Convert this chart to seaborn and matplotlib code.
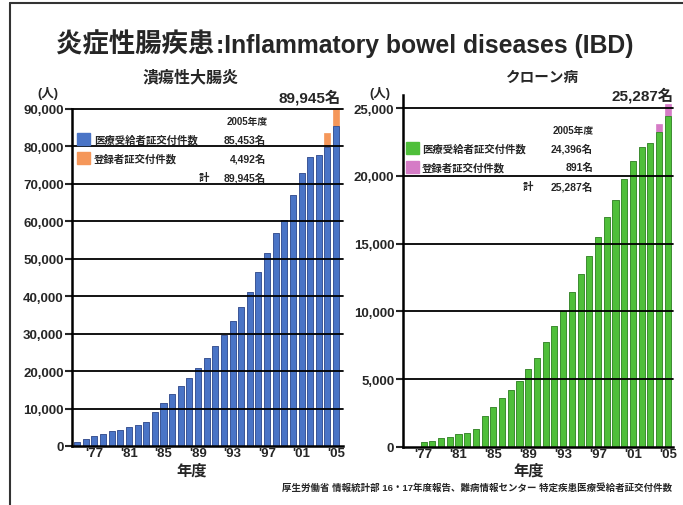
import matplotlib
matplotlib.use("Agg")
import matplotlib.pyplot as plt
import seaborn as sns
import pandas as pd
from matplotlib.lines import Line2D
from matplotlib.patches import Rectangle

# 年度 1975-2005
years = [str(y) for y in range(1975, 2006)]
tick_years = ["1977", "1981", "1985", "1989", "1993", "1997", "2001", "2005"]
tick_labels = ["'77", "'81", "'85", "'89", "'93", "'97", "'01", "'05"]

# 潰瘍性大腸炎
uc_medical = [1000, 1800, 2700, 3200, 4100, 4400, 5000, 5500, 6400, 9200,
              11500, 13800, 16100, 18100, 20700, 23400, 26800, 29600, 33300, 37000,
              41200, 46500, 51600, 57000, 60400, 67000, 72800, 77100, 77700, 79900,
              85453]
uc_registered = [0] * 29 + [3700, 4492]

# クローン病
cd_medical = [0, 0, 370, 440, 615, 690, 910, 1010, 1330, 2240,
              2900, 3620, 4160, 4830, 5740, 6580, 7760, 8940, 10050, 11400,
              12760, 14110, 15510, 16990, 18210, 19760, 21100, 22130, 22450, 23250,
              24396]
cd_registered = [0] * 29 + [600, 891]

W, H = 683, 506


def fx(px):
    return px / W


def fy(py):
    return 1 - py / H


sns.set_style("white")
plt.rcParams['font.family'] = ['Liberation Sans', 'Noto Sans CJK JP', 'DejaVu Sans']

fig = plt.figure(figsize=(6.83, 5.06), dpi=100)

ax1 = fig.add_axes([fx(72), fy(447), 271 / W, 337 / H])
ax2 = fig.add_axes([fx(402.7), fy(447.7), 270.3 / W, 352 / H])


def draw_panel(ax, medical, registered, c_med, e_med, c_reg, ymax, step, xlim):
    df = pd.DataFrame({"year": years, "medical": medical,
                       "total": [m + r for m, r in zip(medical, registered)]})
    sns.barplot(data=df, x="year", y="total", order=years, color=c_reg,
                saturation=1, width=0.7, edgecolor=c_reg, linewidth=0.5,
                errorbar=None, ax=ax, zorder=2)
    sns.barplot(data=df, x="year", y="medical", order=years, color=c_med,
                saturation=1, width=0.7, edgecolor=e_med, linewidth=0.6,
                errorbar=None, ax=ax, zorder=2)
    ticks = list(range(0, ymax + 1, step))
    for v in ticks[1:]:
        ax.axhline(v, color="black", lw=1.3, zorder=3, clip_on=False)
    ax.set_xlim(*xlim)
    ax.set_yticks(ticks)
    ax.set_yticklabels([f"{v:,}" for v in ticks], fontsize=9.5, fontweight="bold")
    ax.set_xticks([years.index(y) for y in tick_years])
    ax.set_xticklabels(tick_labels, fontsize=9.5, fontweight="bold")
    ax.tick_params(axis="y", length=5, width=1.5, pad=1, direction="out", left=True)
    ax.tick_params(axis="x", length=0, pad=1)
    ax.set_xlabel("")
    ax.set_ylabel("")
    for s in ["top", "right"]:
        ax.spines[s].set_visible(False)
    for s in ["left", "bottom"]:
        ax.spines[s].set_color("black")
        ax.spines[s].set_linewidth(1.8)
    ax.patch.set_alpha(0)


draw_panel(ax1, uc_medical, uc_registered, "#4a74c6", "#2c4f98", "#f5975a",
           90000, 10000, (-0.6, 30.8))
ax1.set_ylim(0, 90000)
draw_panel(ax2, cd_medical, cd_registered, "#4fbf3a", "#2f8a24", "#d57cc6",
           25000, 5000, (-0.4, 30.6))
ax2.set_ylim(0, 26000)

cjk = ['Noto Sans CJK JP', 'DejaVu Sans']

# title
fig.text(fx(214), fy(45), "炎症性腸疾患", ha="right", va="center",
         fontsize=19, fontweight="bold", family=cjk)
fig.text(fx(216), fy(46), ":Inflammatory bowel diseases (IBD)", ha="left", va="center",
         fontsize=17.8, fontweight="bold", family=['Liberation Sans', 'DejaVu Sans'])
fig.text(fx(191), fy(77), "潰瘍性大腸炎", ha="center", va="center",
         fontsize=11.5, fontweight="bold", family=cjk)
fig.text(fx(543), fy(77), "クローン病", ha="center", va="center",
         fontsize=10.5, fontweight="bold", family=cjk)

# units and totals
fig.text(fx(48), fy(93), "(人)", ha="center", va="center", fontsize=9, fontweight="bold")
fig.text(fx(380), fy(94), "(人)", ha="center", va="center", fontsize=9, fontweight="bold")
fig.text(fx(341), fy(98), "89,945名", ha="right", va="center", fontsize=11, fontweight="bold")
fig.text(fx(674), fy(96), "25,287名", ha="right", va="center", fontsize=11, fontweight="bold")


# legends
def legend_block(x_box, x_txt, x_num, x_kei, y0, c_med, c_reg, nums, yr_x):
    fig.text(fx(yr_x), fy(y0), "2005年度", ha="right", va="center", fontsize=7, fontweight="bold")
    rows = [("医療受給者証交付件数", c_med, nums[0]), ("登録者証交付件数", c_reg, nums[1])]
    for i, (lab, c, n) in enumerate(rows):
        yy = y0 + 18 + i * 19
        fig.add_artist(Rectangle((fx(x_box), fy(yy + 6)), 13 / W, 12 / H,
                                 transform=fig.transFigure, color=c))
        fig.text(fx(x_txt), fy(yy), lab, ha="left", va="center", fontsize=7.5, fontweight="bold")
        fig.text(fx(x_num), fy(yy), n, ha="right", va="center", fontsize=7.5, fontweight="bold")
    fig.text(fx(x_kei), fy(y0 + 56), "計", ha="center", va="center", fontsize=7.5, fontweight="bold")
    fig.text(fx(x_num), fy(y0 + 56), nums[2], ha="right", va="center", fontsize=7.5, fontweight="bold")


legend_block(77, 94, 266, 204, 122, "#4a74c6", "#f5975a",
             ["85,453名", "4,492名", "89,945名"], 268)
legend_block(406, 422, 593, 528, 131, "#4fbf3a", "#d57cc6",
             ["24,396名", "891名", "25,287名"], 594)

# x labels
fig.text(fx(192), fy(471), "年度", ha="center", va="center", fontsize=11, fontweight="bold", family=cjk)
fig.text(fx(529), fy(471), "年度", ha="center", va="center", fontsize=11, fontweight="bold", family=cjk)

fig.text(fx(672), fy(488),
         "厚生労働省 情報統計部 16・17年度報告、難病情報センター 特定疾患医療受給者証交付件数",
         ha="right", va="center", fontsize=6.8, fontweight="bold")

# frame
fig.add_artist(Line2D([fx(10), 1], [fy(4), fy(4)], transform=fig.transFigure, color="#333333", lw=1.5))
fig.add_artist(Line2D([fx(10), fx(10)], [fy(4), 0], transform=fig.transFigure, color="#333333", lw=1.5))

fig.savefig("out.png", dpi=100)
